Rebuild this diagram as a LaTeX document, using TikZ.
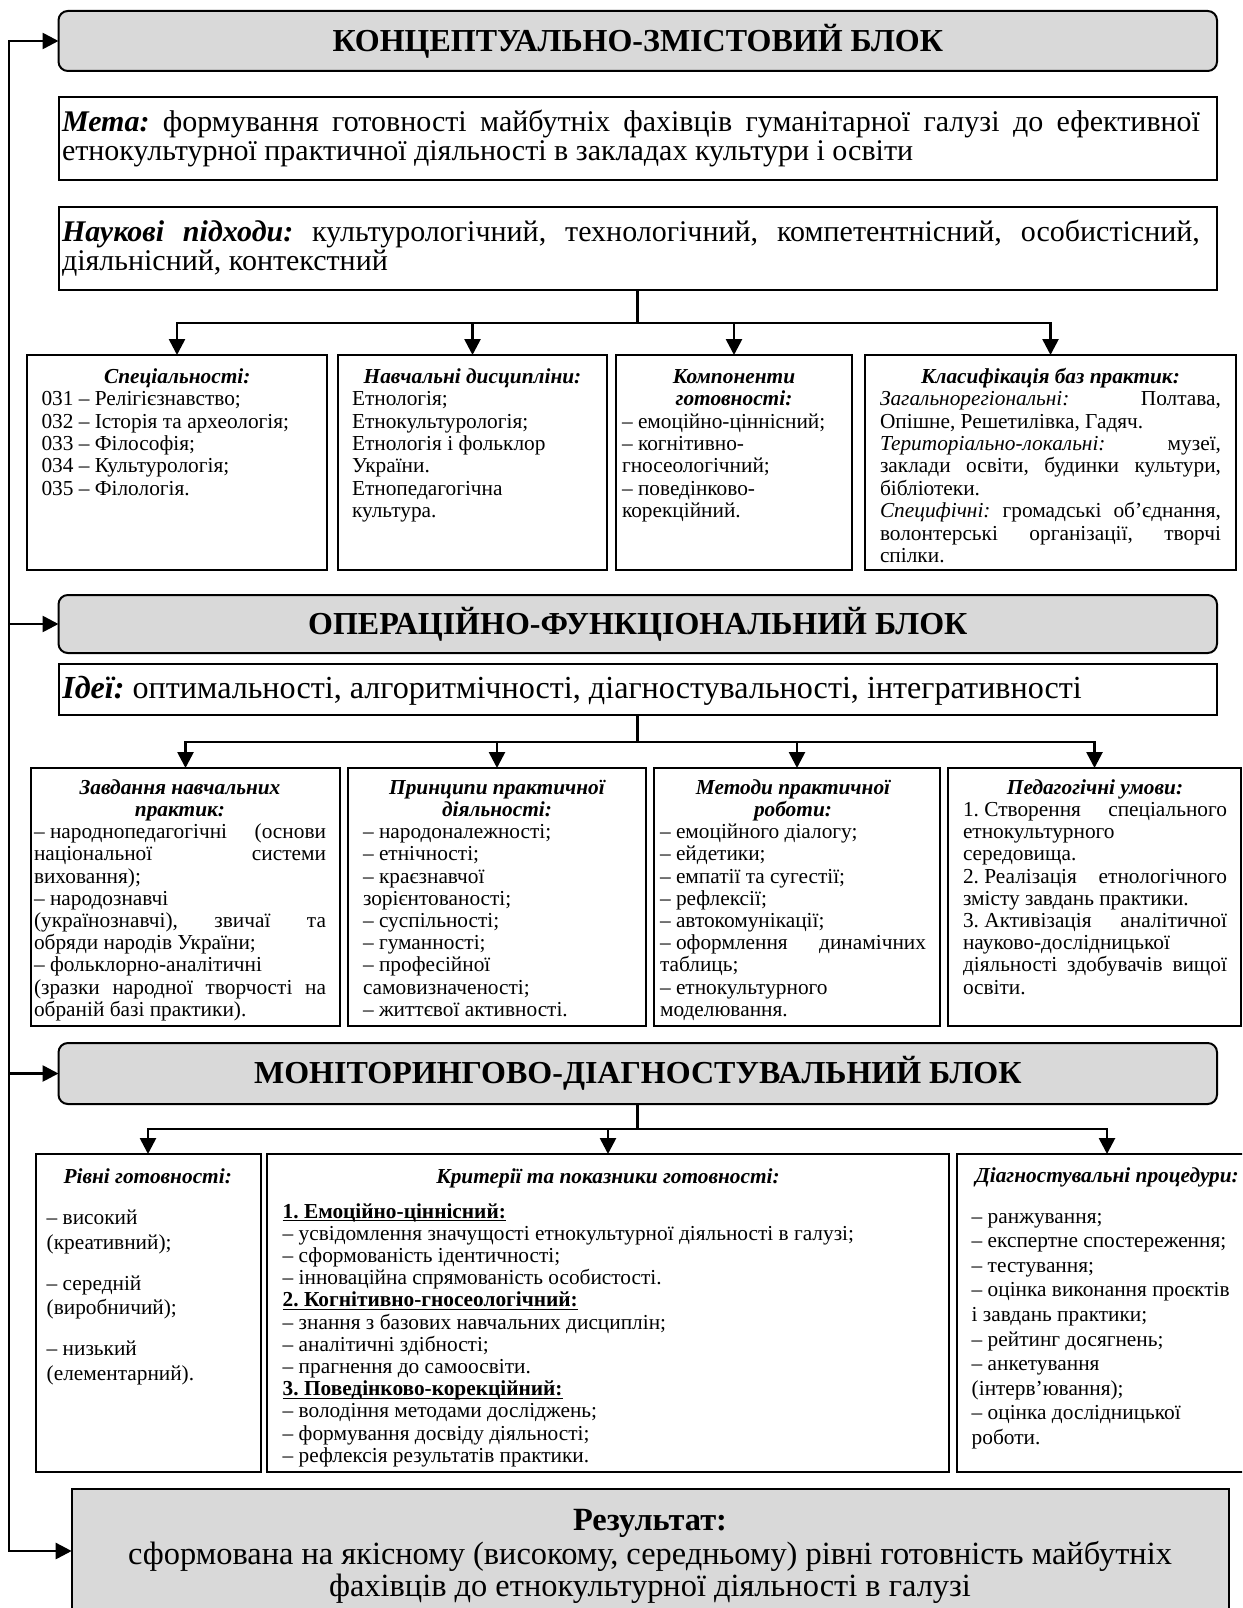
\documentclass[tikz,border=0pt]{standalone}
\usepackage{fontspec}
\setmainfont{Liberation Serif}
\usetikzlibrary{arrows.meta,fit,calc}
\definecolor{hdrgray}{RGB}{217,217,217}
\newcommand\ctl[1]{\makebox[\hsize]{#1}}
\newcommand\jl[1]{\makebox[\hsize][s]{\spaceskip=0pt\xspaceskip=0pt #1}}
\newcommand\fs{\hspace{.25em}}
\newcommand\bi{\bfseries\itshape}
\newcommand\ulb[1]{\leavevmode\setbox0=\hbox{\bfseries #1}\rlap{\rule[-2.2pt]{\wd0}{0.8pt}}\box0}
\begin{document}
\frenchspacing
\begin{tikzpicture}[x=0.75pt,y=-0.75pt,
  box/.style={draw, line width=1.5pt, inner sep=0pt, outer sep=0pt},
  hdr/.style={draw, line width=1.5pt, rounded corners=7pt, fill=hdrgray, inner sep=0pt, outer sep=0pt},
  hdrt/.style={inner sep=0pt, font=\fontsize{24}{26}\selectfont\bfseries},
  txt/.style={inner sep=0pt, outer sep=0pt, anchor=north west, align=left,
    execute at begin node={\spaceskip=0pt\xspaceskip=0pt\lineskiplimit=-30pt\rule{0pt}{1em}}},
  bsz/.style={font=\fontsize{16}{#1}\selectfont},
  conn/.style={line width=2pt},
  arr/.style={conn, -{Triangle[width=12pt,length=12pt]}}]
\useasboundingbox (0,0) rectangle (1242,1608);
\fill[white] (0,0) rectangle (1242,1608);
\clip (0,0) rectangle (1242,1608);

% ---------- block 1
\node[hdr, fit={(58.5,11)(1217,71)}] (h1) {};
\node[hdrt] (h1t) at (h1.center) {КОНЦЕПТУАЛЬНО-ЗМІСТОВИЙ БЛОК};
\node[box, fit={(58.5,97)(1217,180)}] (meta) {};
\node[txt, font=\fontsize{22.5}{21.5}\selectfont, text width=853.5pt] (metat) at (62,102)
 {\jl{\textbf{\textit{Мета:}} формування готовності майбутніх фахівців гуманітарної галузі до ефективної}\\етнокультурної практичної діяльності в закладах культури і освіти};
\node[box, fit={(58.5,207)(1217,290)}] (nauk) {};
\node[txt, font=\fontsize{22.5}{21.5}\selectfont, text width=853.5pt] (naukt) at (62,212)
 {\jl{\textbf{\textit{Наукові підходи:}} культурологічний, технологічний, компетентнісний, особистісний,}\\діяльнісний, контекстний};

\node[box, fit={(27,355)(327,570)}] (b11) {};
\node[box, fit={(338,355)(607,570)}] (b12) {};
\node[box, fit={(616,355)(852,570)}] (b13) {};
\node[box, fit={(865,355)(1236,570)}] (b14) {};

\node[txt, bsz=16.8, text width=203.6pt] (t11) at (41.5,362)
 {\ctl{\bi Спеціальності:}\\031 – Релігієзнавство;\\032 – Історія та археологія;\\033 – Філософія;\\034 – Культурологія;\\035 – Філологія.};
\node[txt, bsz=16.8, text width=180.75pt] (t12) at (352,362)
 {\ctl{\bi Навчальні дисципліни:}\\Етнологія;\\Етнокультурологія;\\Етнологія і фольклор\\України.\\Етнопедагогічна\\культура.};
\node[txt, bsz=16.8, text width=168pt] (t13) at (622,362)
 {\ctl{\bi Компоненти}\\\ctl{\bi готовності:}\\– емоційно-ціннісний;\\– когнітивно-\\гносеологічний;\\– поведінково-\\корекційний.};
\node[txt, bsz=16.8, text width=255.75pt] (t14) at (880,362)
 {\ctl{\bi Класифікація баз практик:}\\\jl{\textit{Загальнорегіональні:} Полтава,}\\Опішне, Решетилівка, Гадяч.\\\jl{\textit{Територіально-локальні:} музеї,}\\\jl{заклади освіти, будинки культури,}\\бібліотеки.\\\jl{\textit{Специфічні:} громадські об’єднання,}\\\jl{волонтерські організації, творчі}\\спілки.};

\coordinate (j1) at ($(nauk.south)+(0,33)$);
\draw[conn] (nauk.south) -- (j1);
\foreach \b in {b11,b12,b13,b14} \draw[arr] (j1) -| (\b.north);

% ---------- block 2
\node[hdr, fit={(58.5,595)(1217,653)}] (h2) {};
\node[hdrt] (h2t) at (h2.center) {ОПЕРАЦІЙНО-ФУНКЦІОНАЛЬНИЙ БЛОК};
\node[box, fit={(58.5,664)(1217,715)}] (idei) {};
\node[anchor=base west, inner sep=0pt, font=\fontsize{24.1}{26}\selectfont] (ideit) at (62,698)
 {\textbf{\textit{Ідеї:}} оптимальності, алгоритмічності, діагностувальності, інтегративності};

\node[box, fit={(31,768)(340,1026)}] (b21) {};
\node[box, fit={(348,768)(646,1026)}] (b22) {};
\node[box, fit={(654,768)(940,1026)}] (b23) {};
\node[box, fit={(948,768)(1241,1026)}] (b24) {};

\node[txt, bsz=16.65, text width=219pt] (t21) at (34,773)
 {\ctl{\bi Завдання навчальних}\\\ctl{\bi практик:}\\\jl{–\fs народнопедагогічні (основи}\\\jl{національної системи}\\виховання);\\– народознавчі\\\jl{(українознавчі), звичаї та}\\обряди народів України;\\– фольклорно-аналітичні\\\jl{(зразки народної творчості на}\\обраній базі практики).};
\node[txt, bsz=16.65, text width=201pt] (t22) at (363,773)
 {\ctl{\bi Принципи практичної}\\\ctl{\bi діяльності:}\\– народоналежності;\\– етнічності;\\– краєзнавчої\\зорієнтованості;\\– суспільності;\\– гуманності;\\– професійної\\самовизначеності;\\– життєвої активності.};
\node[txt, bsz=16.65, text width=199.5pt] (t23) at (660,773)
 {\ctl{\bi Методи практичної}\\\ctl{\bi роботи:}\\– емоційного діалогу;\\– ейдетики;\\– емпатії та сугестії;\\– рефлексії;\\– автокомунікації;\\\jl{–\fs оформлення динамічних}\\таблиць;\\– етнокультурного\\моделювання.};
\node[txt, bsz=16.65, text width=198pt] (t24) at (963,773)
 {\ctl{\bi Педагогічні умови:}\\\jl{1.\fs Створення спеціального}\\етнокультурного\\середовища.\\\jl{2.\fs Реалізація етнологічного}\\змісту завдань практики.\\\jl{3.\fs Активізація аналітичної}\\науково-дослідницької\\\jl{діяльності здобувачів вищої}\\освіти.};

\coordinate (j2) at ($(idei.south)+(0,27)$);
\draw[conn] (idei.south) -- (j2);
\foreach \b in {b21,b22,b23,b24} \draw[arr] (j2) -| (\b.north);

% ---------- block 3
\node[hdr, fit={(58.5,1043)(1217,1104)}] (h3) {};
\node[hdrt] (h3t) at (h3.center) {МОНІТОРИНГОВО-ДІАГНОСТУВАЛЬНИЙ БЛОК};

\node[box, fit={(35.5,1154)(260.5,1472)}] (b31) {};
\node[box, fit={(267,1154)(949,1472)}] (b32) {};
\node[box, fit={(957,1154)(1257,1472)}] (b33) {};

\node[txt, bsz=18.4, text width=151.5pt] (t31) at (46.7,1161.7)
 {\ctl{\bi Рівні готовності:}\\[12.8pt]– високий\\(креативний);\\[12.3pt]– середній\\(виробничий);\\[12.3pt]– низький\\(елементарний).};
\node[txt, bsz=16.65, text width=488pt] (t32) at (282.7,1161.7)
 {\ctl{\bi Критерії та показники готовності:}\\[9.6pt]\ulb{1. Емоційно-ціннісний:}\\– усвідомлення значущості етнокультурної діяльності в галузі;\\– сформованість ідентичності;\\– інноваційна спрямованість особистості.\\\ulb{2. Когнітивно-гносеологічний:}\\– знання з базових навчальних дисциплін;\\– аналітичні здібності;\\– прагнення до самоосвіти.\\\ulb{3. Поведінково-корекційний:}\\– володіння методами досліджень;\\– формування досвіду діяльності;\\– рефлексія результатів практики.};
\node[txt, bsz=18.4, text width=203pt] (t33) at (971.7,1160.7)
 {\ctl{\bi Діагностувальні процедури:}\\[12.6pt]– ранжування;\\– експертне спостереження;\\– тестування;\\– оцінка виконання проєктів\\і завдань практики;\\– рейтинг досягнень;\\– анкетування\\(інтерв’ювання);\\– оцінка дослідницької\\роботи.};

\coordinate (j3) at ($(h3.south)+(0,25)$);
\draw[conn] (h3.south) -- (j3);
\foreach \b in {b31,b32,b33} \draw[arr] (j3) -| (\b.north);

% ---------- result
\node[box, fill=hdrgray, fit={(71.7,1489)(1229,1625)}] (res) {};
\node[txt, anchor=north, text width=825pt, font=\fontsize{24.3}{24}\selectfont] (rest) at (650,1498)
 {\ctl{\textbf{Результат:}}\\[1.5pt]\ctl{сформована на якісному (високому, середньому) рівні готовність майбутніх}\\\ctl{фахівців до етнокультурної діяльності в галузі}};

% ---------- feedback line
\coordinate (L) at (9,0);
\coordinate (R) at (9,1551);
\draw[conn, {Triangle[width=12pt,length=12pt]}-{Triangle[width=12pt,length=12pt]}] (h1.west) -- (h1.west -| L) -- (R) -- (R -| res.west);
\draw[arr] (h2.west -| L) -- (h2.west);
\draw[arr] (h3.west -| L) -- (h3.west);
\end{tikzpicture}
\end{document}
